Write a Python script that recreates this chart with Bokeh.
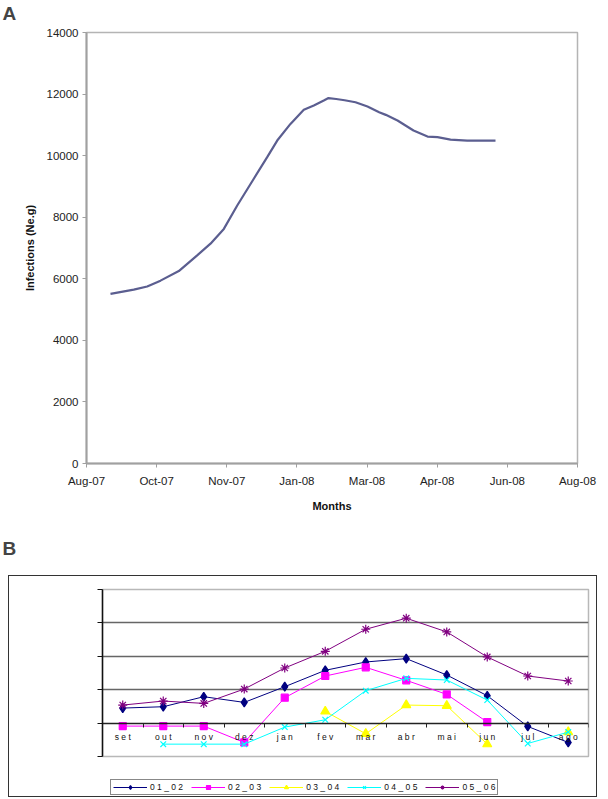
from bokeh.plotting import figure
from bokeh.models import Range1d, FixedTicker, Legend, LegendItem
from bokeh.layouts import column
from bokeh.embed import file_html
from bokeh.resources import INLINE

# ---------------- Chart A data ----------------
a_tick_labels = ["Aug-07", "Oct-07", "Nov-07", "Jan-08", "Mar-08", "Apr-08", "Jun-08", "Aug-08"]
a_x = [0.342, 0.674, 0.865, 1.055, 1.316, 1.578, 1.768, 1.958, 2.149, 2.385, 2.576, 2.719,
       2.908, 3.098, 3.241, 3.383, 3.450, 3.560, 3.680, 3.835, 4.006, 4.172, 4.267, 4.434,
       4.662, 4.862, 5.004, 5.190, 5.427, 5.831]
a_infections = [5510, 5650, 5750, 5940, 6250, 6760, 7140, 7620, 8380, 9250, 9950, 10490,
                11030, 11490, 11630, 11790, 11870, 11840, 11800, 11735, 11595, 11410, 11325,
                11140, 10815, 10620, 10600, 10520, 10490, 10490]
a_yticks = [0, 2000, 4000, 6000, 8000, 10000, 12000, 14000]

# ---------------- Chart B data ----------------
b_months = ["set", "out", "nov", "dez", "jan", "fev", "mar", "abr", "mai", "jun", "jul", "ago"]
nan = float("nan")
s01_02 = [0.45, 0.49, 0.79, 0.62, 1.09, 1.58, 1.83, 1.93, 1.44, 0.82, -0.10, -0.58]
s02_03 = [-0.09, -0.09, -0.09, -0.58, 0.76, 1.41, 1.67, 1.28, 0.86, 0.03, nan, nan]
s03_04 = [nan, nan, nan, nan, nan, 0.35, -0.32, 0.54, 0.52, -0.63, nan, -0.27]
s04_05 = [nan, -0.63, -0.63, -0.63, -0.12, 0.10, 0.97, 1.34, 1.29, 0.69, -0.61, -0.27]
s05_06 = [0.54, 0.66, 0.59, 1.02, 1.65, 2.15, 2.81, 3.14, 2.73, 1.98, 1.41, 1.26]
b_series_names = ["01_02", "02_03", "03_04", "04_05", "05_06"]

FONT = "Liberation Sans"


def label_strip(text, height, top):
    f = figure(width=608, height=height, output_backend="svg", toolbar_location=None,
               x_range=Range1d(0, 1), y_range=Range1d(0, 1), frame_align=False,
               min_border_left=0, min_border_right=0, min_border_top=top, min_border_bottom=0)
    f.title.text = text
    f.title.text_font = FONT
    f.title.text_font_size = "19px"
    f.title.text_font_style = "bold"
    f.title.align = "left"
    f.title.offset = 2
    f.title.standoff = 0
    f.title.vertical_align = "bottom"
    f.axis.visible = False
    f.grid.visible = False
    f.outline_line_color = None
    return f


# ================= "A" label =================
pLabA = label_strip("A", 24, 22)

# ================= Figure A =================
pA = figure(width=608, height=496, output_backend="svg", toolbar_location=None,
            x_range=Range1d(0, 7), y_range=Range1d(0, 14000), frame_align=False,
            min_border_left=86, min_border_right=31, min_border_top=8, min_border_bottom=57)
pA.grid.visible = False
pA.outline_line_color = "#b4b4b4"
pA.outline_line_width = 1.5
pA.line(a_x, a_infections, line_color="#5b5e90", line_width=2.2)

pA.xaxis.ticker = FixedTicker(ticks=list(range(8)))
pA.xaxis.major_label_overrides = {i: lab for i, lab in enumerate(a_tick_labels)}
pA.yaxis.ticker = FixedTicker(ticks=a_yticks)
for ax in (pA.xaxis, pA.yaxis):
    ax.axis_line_color = "#a0a0a0"
    ax.axis_line_width = 2
    ax.major_tick_line_color = "#a0a0a0"
    ax.major_tick_out = 4
    ax.major_tick_in = 0
    ax.minor_tick_line_color = None
    ax.major_label_text_font = FONT
    ax.major_label_text_font_size = "11.5px"
    ax.major_label_text_color = "#222222"
    ax.axis_label_text_font = FONT
    ax.axis_label_text_font_size = "11px"
    ax.axis_label_text_font_style = "bold"
    ax.axis_label_text_color = "#111111"
pA.xaxis.major_label_standoff = 7
pA.yaxis.major_label_standoff = 4
pA.xaxis.axis_label = "Months"
pA.xaxis.axis_label_standoff = 10
pA.yaxis.axis_label = "Infections (Ne.g)"
pA.yaxis.axis_label_standoff = 8

# ================= "B" label =================
pLab = label_strip("B", 55, 38)

# ================= Figure B =================
pB = figure(width=587, height=197, output_backend="svg", toolbar_location=None,
            x_range=Range1d(0, 12), y_range=Range1d(-1, 4), frame_align=False,
            min_border_left=93, min_border_right=8, min_border_top=13, min_border_bottom=17)
pB.outline_line_color = "#b8b8b8"
pB.outline_line_width = 1.5
pB.xgrid.visible = False
pB.ygrid.ticker = FixedTicker(ticks=[1, 2, 3])
pB.ygrid.grid_line_color = "#666666"
pB.ygrid.grid_line_width = 1.5

bx = [i + 0.5 for i in range(12)]
colors = ["#000080", "#ff00ff", "#ffff00", "#00ffff", "#800080"]
markers = ["diamond", "square", "triangle", "x", "asterisk"]
sizes = [9, 7, 9, 8, 9]
series = [s01_02, s02_03, s03_04, s04_05, s05_06]
for ys, c, m, sz in zip(series, colors, markers, sizes):
    pB.line(bx, ys, line_color=c, line_width=1)
    pB.scatter(bx, ys, marker=m, size=sz, fill_color=c, line_color=c, line_width=1.2)

pB.xaxis.ticker = FixedTicker(ticks=bx, minor_ticks=list(range(13)))
pB.xaxis.major_label_overrides = {x: " ".join(m) for x, m in zip(bx, b_months)}
pB.xaxis.fixed_location = 0
pB.xaxis.axis_line_color = "#222222"
pB.xaxis.axis_line_width = 1.3
pB.xaxis.major_tick_line_color = None
pB.xaxis.minor_tick_line_color = "#222222"
pB.xaxis.minor_tick_out = 4
pB.xaxis.minor_tick_in = 0
pB.xaxis.major_label_standoff = 3
pB.xaxis.major_label_text_font = FONT
pB.xaxis.major_label_text_font_size = "8.5px"
pB.xaxis.major_label_text_color = "#111111"

pB.yaxis.ticker = FixedTicker(ticks=[-1, 0, 1, 2, 3, 4])
pB.yaxis.axis_line_color = "#111111"
pB.yaxis.axis_line_width = 1.5
pB.yaxis.major_tick_line_color = "#111111"
pB.yaxis.major_tick_out = 5
pB.yaxis.major_tick_in = 0
pB.yaxis.minor_tick_line_color = None
pB.yaxis.major_label_text_color = None

# ================= Legend strip for B =================
pLeg = figure(width=587, height=23, output_backend="svg", toolbar_location=None,
              x_range=Range1d(0, 1), y_range=Range1d(0, 1), frame_align=False,
              min_border_left=0, min_border_right=0, min_border_top=0, min_border_bottom=0)
pLeg.axis.visible = False
pLeg.grid.visible = False
pLeg.outline_line_color = None
items = []
for name, c, m, sz in zip(b_series_names, colors, markers, sizes):
    lr = pLeg.line([nan], [nan], line_color=c, line_width=1)
    sr = pLeg.scatter([nan], [nan], marker=m, size=sz - 1, fill_color=c, line_color=c,
                      line_width=1.2)
    items.append(LegendItem(label=" ".join(name), renderers=[lr, sr]))
legend = Legend(items=items, orientation="horizontal", location=(101, 1),
                border_line_color="#111111", border_line_width=1,
                background_fill_alpha=1, padding=2, margin=0, spacing=8,
                glyph_width=34, glyph_height=10, label_standoff=3,
                label_text_font=FONT, label_text_font_size="8.5px",
                label_text_color="#111111", label_height=10)
pLeg.add_layout(legend, "center")

boxB = column(pB, pLeg, spacing=0, margin=(0, 0, 0, 8),
              styles={"border": "1px solid #333333"})

layout = column(pLabA, pA, pLab, boxB, spacing=0)
open("out.html", "w").write(file_html(layout, INLINE))
